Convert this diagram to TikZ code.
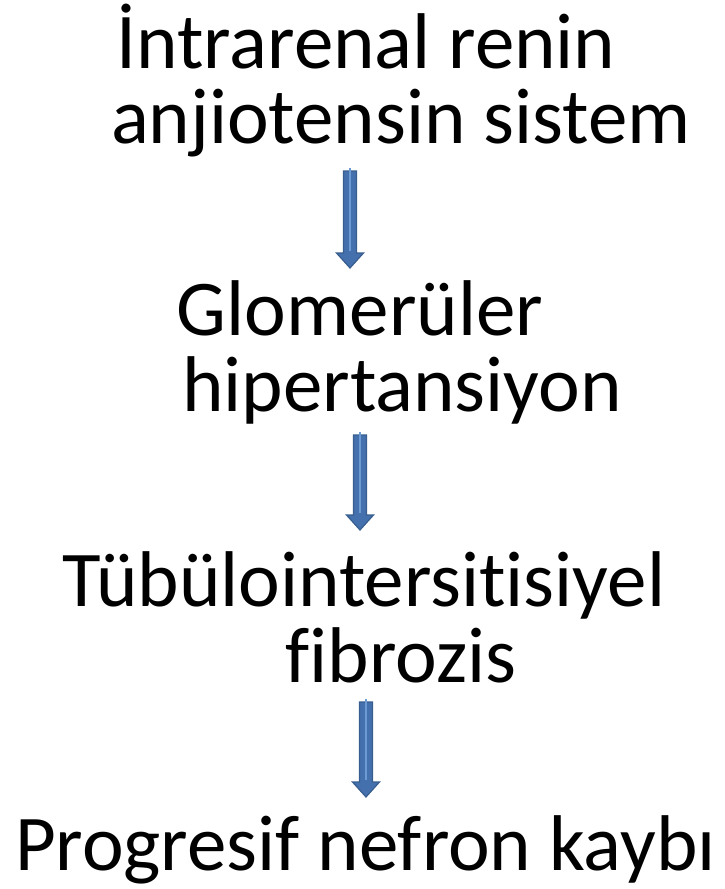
\documentclass[tikz,border=0pt]{standalone}
\usepackage{fontspec}
\setmainfont{Carlito}[RawFeature={-liga;-clig;-dlig}]
\usetikzlibrary{calc}
\definecolor{arrfill}{HTML}{4470AE}
\definecolor{arrdraw}{HTML}{375E8E}
\definecolor{arrlight}{HTML}{6E9AD4}
\tikzset{
  txt/.style={inner sep=0pt, outer sep=0pt, anchor=base, font=\fontsize{79}{95}\selectfont},
  blockarrow/.style={fill=arrfill, draw=arrdraw, line width=1.2pt, line join=miter},
  arrowshine/.style={draw=arrlight, line width=1.6pt}
}
\newcommand{\flowarrow}[2]{%
  \draw[blockarrow] ($(#1)+(-6.5,0)$) -- ($(#2)+(-6.5,15)$) -- ($(#2)+(-13.5,15)$) -- (#2)
    -- ($(#2)+(13.5,15)$) -- ($(#2)+(6.5,15)$) -- ($(#1)+(6.5,0)$) -- cycle;
  \draw[arrowshine] ($(#1)+(0,3)$) -- ($(#2)+(0,17)$);
}
\begin{document}
\begin{tikzpicture}[x=1pt,y=1pt]
\useasboundingbox (0,0) rectangle (724,-889);
\node[txt] (l1) at (366,-68) {İntrarenal renin};
\node[txt] (l2) at (401,-143) {anjiotensin sistem};
\node[txt] (l3) at (360,-335) {Glomerüler};
\node[txt] (l4) at (402,-411) {hipertansiyon};
\node[txt] (l5) at (364,-606) {Tübülointersitisiyel};
\node[txt] (l6) at (401,-682) {fibrozis};
\node[txt, anchor=base west] (l7) at (15,-870) {Progresif nefron kaybı};
\coordinate (a1s) at (350,-171);
\coordinate (a1e) at (350,-268);
\coordinate (a2s) at (360,-435);
\coordinate (a2e) at (360,-530);
\coordinate (a3s) at (366,-702);
\coordinate (a3e) at (366,-797);
\flowarrow{a1s}{a1e}
\flowarrow{a2s}{a2e}
\flowarrow{a3s}{a3e}
\end{tikzpicture}
\end{document}
